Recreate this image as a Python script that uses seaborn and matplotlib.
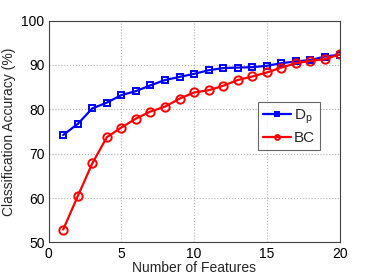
import numpy as np
import pandas as pd
import matplotlib
matplotlib.use("Agg")
import matplotlib.pyplot as plt
import seaborn as sns

# --- data ---
n_features = list(range(1, 21))
acc_dp = [74.2, 76.7, 80.2, 81.5, 83.2, 84.1, 85.4, 86.6, 87.3, 88.0,
          88.8, 89.3, 89.4, 89.5, 89.8, 90.4, 90.8, 91.1, 91.9, 92.3]
acc_bc = [52.9, 60.4, 67.8, 73.7, 75.9, 77.9, 79.5, 80.6, 82.4, 83.8,
          84.3, 85.3, 86.6, 87.4, 88.3, 89.4, 90.4, 90.9, 91.3, 92.4]
series_names = ["D$_p$", "BC"]
x_ticks = [0, 5, 10, 15, 20]
y_ticks = [50, 60, 70, 80, 90, 100]

sns.set_style("white")
plt.rcParams["font.family"] = ["Liberation Sans", "DejaVu Sans"]
plt.rcParams["mathtext.fontset"] = "custom"
plt.rcParams["mathtext.rm"] = "Liberation Sans"
plt.rcParams["mathtext.it"] = "Liberation Sans"

fig = plt.figure(figsize=(3.74, 2.78), dpi=100)
ax = fig.add_axes([0.130, 0.128, 0.778, 0.798])

sns.lineplot(x=n_features, y=acc_dp, color="#0000ff", marker="s", markersize=5,
             markerfacecolor="none", markeredgecolor="#0000ff", markeredgewidth=1.4,
             linewidth=1.6, label=series_names[0], ax=ax)
sns.lineplot(x=n_features, y=acc_bc, color="#ff0000", marker="o", markersize=6,
             markerfacecolor="none", markeredgecolor="#ff0000", markeredgewidth=1.4,
             linewidth=1.6, label=series_names[1], ax=ax)

ax.set_xlim(0, 20)
ax.set_ylim(50, 100)
ax.set_xticks(x_ticks)
ax.set_yticks(y_ticks)
ax.tick_params(direction="in", length=3, labelsize=10, colors="#000000", pad=3)
ax.grid(True, linestyle=":", color="#b0b0b0", linewidth=0.8)
for sp in ax.spines.values():
    sp.set_color("#404040")
    sp.set_linewidth(0.8)

ax.set_xlabel("Number of Features", fontsize=10, labelpad=0)
ax.set_ylabel("Classification Accuracy (%)", fontsize=10, labelpad=4)

leg = ax.legend(loc="upper left", bbox_to_anchor=(0.72, 0.633), fontsize=11,
                frameon=True, fancybox=False, edgecolor="#404040", borderaxespad=0,
                handlelength=1.8, borderpad=0.35, labelspacing=0.35, handletextpad=0.2)
leg.get_frame().set_linewidth(0.8)
for h in leg.legend_handles:
    h.set_markersize(3.5)

fig.savefig("out.png", dpi=100)
